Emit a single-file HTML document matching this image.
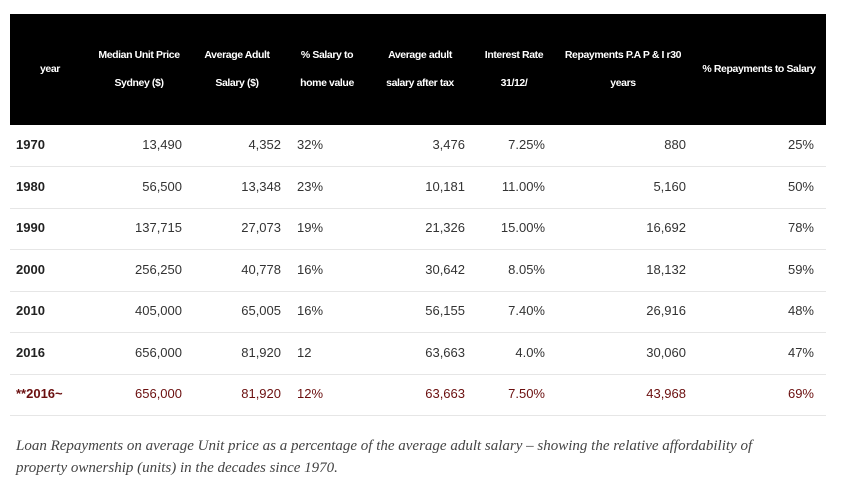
<!DOCTYPE html>
<html><head><meta charset="utf-8"><style>
body{margin:0;width:846px;height:497px;background:#fff;position:relative;font-family:"Liberation Sans",sans-serif;overflow:hidden}
.hdr{position:absolute;left:10px;top:14px;width:816px;height:111px;background:#000}
.h{position:absolute;color:#fff;font-size:10.5px;font-weight:bold;letter-spacing:-0.4px;text-align:center;line-height:28px;white-space:nowrap;transform:translateX(-50%)}
.c{position:absolute;font-size:13px;color:#333;white-space:nowrap;line-height:16px}
.r{transform:translateX(-100%)}
.line{position:absolute;left:10px;width:816px;height:1px;background:#e6e6e6}
.cap{position:absolute;left:16px;top:435px;width:792px;font-family:"Liberation Serif",serif;font-style:italic;font-size:15px;color:#444;line-height:22px}
</style></head><body>
<div class="hdr"></div>
<div id="tbl"></div>
<div class="cap">Loan Repayments on average Unit price as a percentage of the average adult salary – showing the relative affordability of<br>property ownership (units) in the decades since 1970.</div>
<script>
const headers=[["year"],["Median Unit Price","Sydney ($)"],["Average Adult","Salary ($)"],["% Salary to","home value"],["Average adult","salary after tax"],["Interest Rate","31/12/"],["Repayments P.A P & I  r30","years"],["% Repayments to Salary"]];
const years=["1970","1980","1990","2000","2010","2016","**2016~"];
const medianPrice=["13,490","56,500","137,715","256,250","405,000","656,000","656,000"];
const avgSalary=["4,352","13,348","27,073","40,778","65,005","81,920","81,920"];
const salaryToHome=["32%","23%","19%","16%","16%","12","12%"];
const afterTax=["3,476","10,181","21,326","30,642","56,155","63,663","63,663"];
const interest=["7.25%","11.00%","15.00%","8.05%","7.40%","4.0%","7.50%"];
const repayments=["880","5,160","16,692","18,132","26,916","30,060","43,968"];
const repayPct=["25%","50%","78%","59%","48%","47%","69%"];
const hx=[50,139,237,327,420,514,623,759];
const hnames=["year","median-unit-price","average-adult-salary","salary-to-home-value","salary-after-tax","interest-rate","repayments","repayments-to-salary"];
const t=document.body;
headers.forEach((h,i)=>{
 const d=document.createElement('div');d.className='h';
 
 
 d.style.left=hx[i]+'px';
 d.style.top=(h.length===1?55:41)+'px';
 d.innerHTML=h.join('<br>');t.appendChild(d);
});
const cols=[[years,16,'l'],[medianPrice,182,'r'],[avgSalary,281,'r'],[salaryToHome,297,'l'],[afterTax,465,'r'],[interest,545,'r'],[repayments,686,'r'],[repayPct,814,'r']];
const rowH=41.5;
years.forEach((y,ri)=>{
 const cy=145+ri*rowH;
 cols.forEach(([arr,x,al],ci)=>{
  const d=document.createElement('div');d.className='c'+(al==='r'?' r':'');
  
  
  d.style.left=x+'px';d.style.top=(cy-8)+'px';
  if(ci===0){d.style.fontWeight='bold';d.style.color='#222';}
  if(ri===years.length-1)d.style.color='#6b0f0f';
  d.textContent=arr[ri];t.appendChild(d);
 });
 const l=document.createElement('div');l.className='line';
 
 
 l.style.top=Math.round(166+ri*rowH)+'px';t.appendChild(l);
});
</script>
</body></html>
